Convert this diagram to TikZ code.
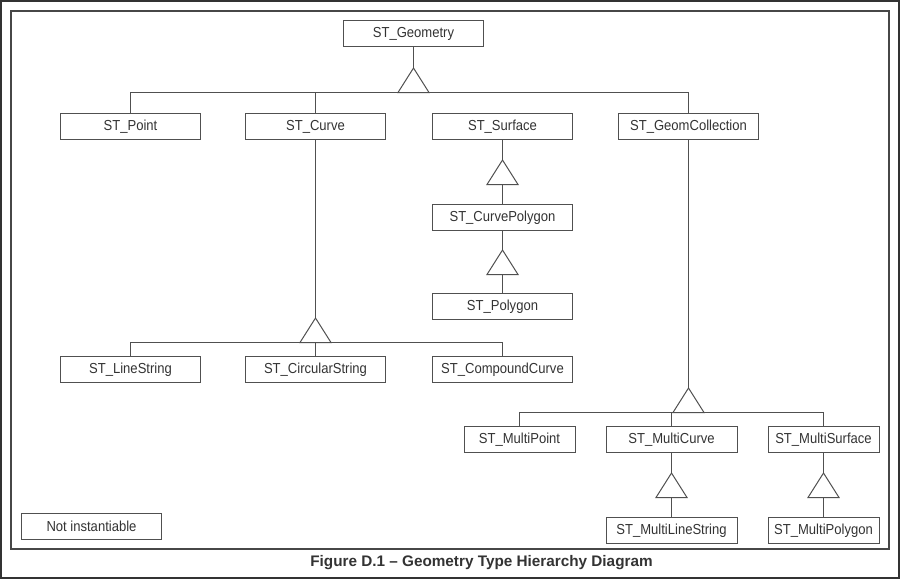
\documentclass[tikz,border=0pt]{standalone}
\usepackage{fontspec}
\setmainfont{Liberation Sans}
\newfontfamily\boxfont[FakeStretch=0.9]{Liberation Sans}
\definecolor{ln}{HTML}{505050}
\definecolor{tx}{HTML}{333333}
\begin{document}
\begin{tikzpicture}[x=1pt,y=-1pt,
  cls/.style={draw=ln,line width=1pt,minimum height=26pt,inner sep=0pt,
    font=\boxfont\fontsize{14.5}{16}\selectfont,text=tx},
  wbox/.style={cls,minimum width=140pt},
  nbox/.style={cls,minimum width=111pt},
  mbox/.style={cls,minimum width=131pt},
  conn/.style={draw=ln,line width=1pt},
  tri/.style={draw=ln,line width=1pt,line join=miter}]
\useasboundingbox (0,0) rectangle (900,579);
% frames
\draw[line width=2pt,draw=tx] (1,1) rectangle (899,578);
\draw[line width=1.3pt,draw=tx!90] (11,11) rectangle (889,549);
% nodes
\node[wbox] (geom) at (413.5,33.5) {ST\_Geometry};
\node[wbox] (point) at (130.5,126.5) {ST\_Point};
\node[wbox] (curve) at (315.5,126.5) {ST\_Curve};
\node[wbox] (surf) at (502.5,126.5) {ST\_Surface};
\node[wbox] (coll) at (688.5,126.5) {ST\_GeomCollection};
\node[wbox] (cpoly) at (502.5,217.5) {ST\_CurvePolygon};
\node[wbox] (poly) at (502.5,306.5) {ST\_Polygon};
\node[wbox] (lstr) at (130.5,369.5) {ST\_LineString};
\node[wbox] (cstr) at (315.5,369.5) {ST\_CircularString};
\node[wbox] (ccurve) at (502.5,369.5) {ST\_CompoundCurve};
\node[nbox] (mpoint) at (519.5,439.5) {ST\_MultiPoint};
\node[mbox] (mcurve) at (671.5,439.5) {ST\_MultiCurve};
\node[nbox] (msurf) at (823.5,439.5) {ST\_MultiSurface};
\node[mbox] (mlstr) at (671.5,530.5) {ST\_MultiLineString};
\node[nbox] (mpoly) at (823.5,530.5) {ST\_MultiPolygon};
\node[wbox] (notinst) at (91.5,526.5) {Not instantiable};
\node[text=tx,font=\bfseries\fontsize{15.3}{17}\selectfont] (cap) at (481.5,563) {Figure D.1 – Geometry Type Hierarchy Diagram};
% triangles: apex coordinate and base middle coordinate
\foreach \n/\x/\y in {ta/413.5/68, tb/502.5/160, tc/502.5/250, td/315.5/318, te/688.5/388, tf/671.5/473, tg/823.5/473}{
  \coordinate (\n) at (\x,\y);
  \coordinate (\n b) at (\x,\y+24.5);
  \draw[tri] (\n) -- ++(-15.5,24.5) -- ++(31,0) -- cycle;
}
% connectors
\draw[conn] (geom.south) -- (ta);
\draw[conn] (point.north) |- (tab) -| (coll.north);
\draw[conn] (curve.north) -- (curve.north |- tab);
\draw[conn] (surf.south) -- (tb);
\draw[conn] (tbb) -- (cpoly.north);
\draw[conn] (cpoly.south) -- (tc);
\draw[conn] (tcb) -- (poly.north);
\draw[conn] (curve.south) -- (td);
\draw[conn] (lstr.north) |- (tdb) -| (ccurve.north);
\draw[conn] (tdb) -- (cstr.north);
\draw[conn] (coll.south) -- (te);
\draw[conn] (mpoint.north) |- (teb) -| (msurf.north);
\draw[conn] (mcurve.north) -- (mcurve.north |- teb);
\draw[conn] (mcurve.south) -- (tf);
\draw[conn] (tfb) -- (mlstr.north);
\draw[conn] (msurf.south) -- (tg);
\draw[conn] (tgb) -- (mpoly.north);
\end{tikzpicture}
\end{document}
